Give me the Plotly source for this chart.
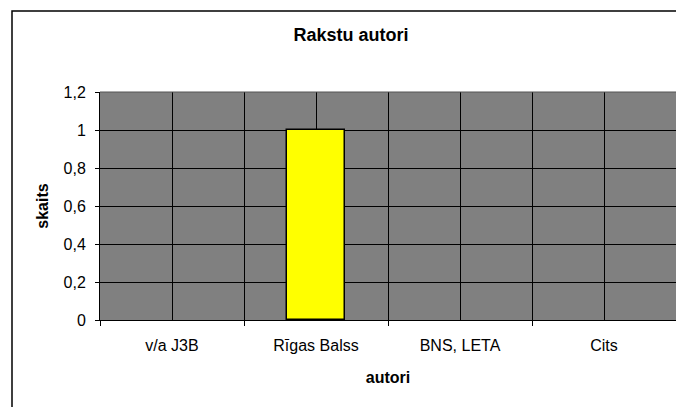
import plotly.graph_objects as go

# Data
categories = ["v/a J3B", "Rīgas Balss", "BNS, LETA", "Cits"]
values = [0, 1, 0, 0]
y_ticks = [0, 0.2, 0.4, 0.6, 0.8, 1.0, 1.2]

title_text = "Rakstu autori"
x_title = "autori"
y_title = "skaits"

FONT = "Liberation Sans, Arial, sans-serif"

W, H = 676, 407
L, R, T, B = 100, 0, 92, 87
pw, ph = W - L - R, H - T - B

def px_x(px):
    return (px - L) / pw

def px_y(py):
    return (H - B - py) / ph

x_pos = list(range(len(categories)))
outline_widths = [1.5 if v > 0 else 0 for v in values]

fig = go.Figure()
fig.add_trace(go.Bar(
    x=x_pos,
    y=values,
    width=0.4,
    marker=dict(color="#FFFF00", line=dict(color="black", width=outline_widths)),
    hoverinfo="skip",
))

fig.update_layout(
    width=W, height=H,
    margin=dict(l=L, r=R, t=T, b=B, pad=0),
    paper_bgcolor="#ffffff",
    plot_bgcolor="#808080",
    separators=", ",
    showlegend=False,
    font=dict(family=FONT, color="black", size=16),
    title=dict(
        text="<b>" + title_text + "</b>",
        x=351 / W, xanchor="center",
        y=1 - 35 / H, yanchor="middle",
        font=dict(family=FONT, size=18, color="black"),
    ),
    bargap=0,
)

fig.update_xaxes(
    range=[-0.5, len(categories) - 0.5],
    tickmode="array",
    tickvals=x_pos,
    ticktext=categories,
    ticks="",
    ticklabelstandoff=11,
    tickfont=dict(size=16, family=FONT, color="black"),
    showgrid=True, gridcolor="black", gridwidth=1,
    minor=dict(tick0=-0.5, dtick=1, showgrid=True, gridcolor="black",
               gridwidth=1, ticks="outside", ticklen=5, tickcolor="black"),
    showline=True, linecolor="black", linewidth=1,
    zeroline=False,
    title=dict(text="<b>" + x_title + "</b>", standoff=18,
               font=dict(size=16, family=FONT, color="black")),
    fixedrange=True,
)

fig.update_yaxes(
    range=[0, 1.2],
    tickmode="array",
    tickvals=y_ticks,
    ticks="outside", ticklen=4, tickcolor="black",
    ticklabelstandoff=6,
    tickfont=dict(size=16, family=FONT, color="black"),
    showgrid=True, gridcolor="black", gridwidth=1,
    showline=True, linecolor="black", linewidth=1,
    zeroline=False,
    title=dict(text="<b>" + y_title + "</b>", standoff=10,
               font=dict(size=16, family=FONT, color="black")),
    fixedrange=True,
)

fig.add_shape(type="line", xref="paper", yref="paper",
              x0=0, x1=1, y0=1, y1=1,
              line=dict(color="#555555", width=1))

fig.add_shape(type="rect", xref="paper", yref="paper",
              x0=px_x(12), x1=px_x(690), y0=px_y(420), y1=px_y(11),
              line=dict(color="black", width=1.5), fillcolor="rgba(0,0,0,0)",
              layer="above")

fig.write_html(
    "out.html", config={"displayModeBar": False},
    post_script=(
        "document.documentElement.style.margin='0';"
        "document.documentElement.style.overflow='hidden';"
        "document.body.style.margin='0';"
        "document.body.style.overflow='hidden';"
    ),
)
